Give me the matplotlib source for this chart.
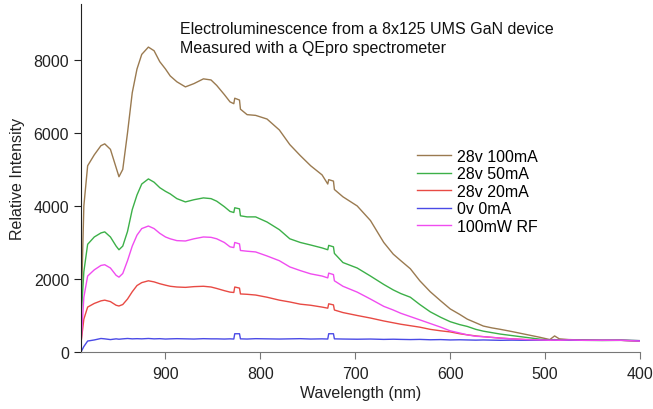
import matplotlib
matplotlib.use("Agg")
import matplotlib.pyplot as plt

plt.rcParams['font.family'] = ['Liberation Sans', 'DejaVu Sans']

# shared wavelength grid (nm)
wavelength = [989, 986, 982, 975, 968, 964, 958, 952, 949, 945, 940, 935, 930, 925,
              918, 912, 906, 900, 895, 888, 879, 870, 860, 852, 846, 838, 832, 828,
              827, 822, 821, 814, 805, 793, 780, 769, 758, 747, 735, 729, 728, 723,
              722, 713, 698, 684, 670, 660, 652, 642, 632, 621, 610, 600, 590, 582,
              573, 565, 556, 547, 535, 520, 505, 495, 490, 485, 475, 460, 440, 420, 400]

i_100mA = [950, 4000, 5100, 5400, 5650, 5700, 5550, 5050, 4800, 5000, 6000, 7100, 7750, 8150,
           8350, 8250, 7950, 7750, 7560, 7400, 7260, 7350, 7480, 7450, 7300, 7050, 6850, 6800,
           6950, 6900, 6650, 6500, 6480, 6380, 6080, 5680, 5380, 5100, 4850, 4600, 4720, 4680,
           4450, 4250, 4000, 3600, 3000, 2680, 2500, 2280, 1950, 1650, 1400, 1180, 1030, 900,
           800, 710, 660, 620, 560, 480, 400, 340, 440, 360, 340, 330, 320, 320, 310]

i_50mA = [900, 2200, 2950, 3150, 3260, 3290, 3150, 2900, 2800, 2900, 3300, 3900, 4300, 4600,
          4740, 4650, 4500, 4400, 4330, 4200, 4110, 4170, 4220, 4200, 4130, 3980, 3850, 3820,
          3950, 3920, 3730, 3700, 3700, 3560, 3350, 3100, 3000, 2930, 2850, 2800, 2920, 2880,
          2700, 2450, 2300, 2080, 1850, 1700, 1600, 1500, 1300, 1100, 950, 830, 750, 700,
          620, 570, 530, 490, 450, 400, 350, 330, 340, 330, 320, 320, 315, 320, 310]

i_20mA = [250, 900, 1230, 1330, 1400, 1420, 1380, 1280, 1260, 1300, 1450, 1650, 1820, 1900,
          1950, 1920, 1870, 1830, 1800, 1780, 1770, 1790, 1800, 1780, 1740, 1680, 1640, 1630,
          1780, 1750, 1590, 1580, 1560, 1500, 1420, 1370, 1310, 1280, 1230, 1200, 1320, 1290,
          1150, 1080, 1000, 930, 850, 800, 760, 720, 680, 620, 580, 550, 500, 470,
          440, 420, 400, 380, 360, 340, 330, 320, 325, 320, 330, 320, 320, 320, 300]

i_0mA = [0, 150, 300, 330, 370, 360, 340, 360, 350, 360, 370, 360, 365, 360,
         370, 360, 365, 355, 360, 365, 360, 355, 365, 360, 360, 355, 360, 355,
         500, 500, 360, 355, 365, 360, 355, 360, 365, 355, 360, 355, 500, 500,
         360, 355, 350, 355, 345, 350, 345, 340, 345, 335, 340, 330, 335, 330,
         325, 330, 325, 320, 325, 320, 325, 320, 325, 320, 325, 320, 320, 320, 310]

i_rf = [200, 1500, 2080, 2250, 2370, 2390, 2300, 2100, 2050, 2150, 2500, 2900, 3200, 3380,
        3450, 3380, 3250, 3150, 3100, 3050, 3040, 3100, 3150, 3140, 3100, 3000, 2880, 2860,
        3000, 2960, 2780, 2760, 2740, 2630, 2500, 2330, 2230, 2140, 2080, 2030, 2160, 2120,
        1950, 1800, 1640, 1450, 1250, 1150, 1060, 970, 880, 780, 680, 580, 520, 470,
        430, 420, 400, 380, 360, 340, 330, 320, 325, 320, 330, 320, 320, 320, 300]

labels = ['28v 100mA', '28v 50mA', '28v 20mA', '0v 0mA', '100mW RF']
colors = ['#9a7a50', '#3cb048', '#e84a44', '#4a4ae6', '#f04cf0']

fig = plt.figure(figsize=(6.53, 4.10), dpi=100)
ax = fig.add_axes([81 / 653, 57 / 410, 559 / 653, 348 / 410])

for y, lab, c in zip([i_100mA, i_50mA, i_20mA, i_0mA, i_rf], labels, colors):
    ax.plot(wavelength, y, color=c, lw=1.0, label=lab)

ax.set_xlim(989, 400)
ax.set_ylim(0, 9530)
ax.set_xticks([900, 800, 700, 600, 500, 400])
ax.set_yticks([0, 2000, 4000, 6000, 8000])
ax.tick_params(direction='out', length=5, width=0.8, labelsize=11.5, colors='#222222')
ax.spines['top'].set_visible(False)
ax.spines['right'].set_visible(False)
ax.spines['left'].set_color('#222222')
ax.spines['bottom'].set_color('#777777')
ax.tick_params(axis='x', color='#777777', labelcolor='#222222', pad=5)

ax.set_xlabel('Wavelength (nm)', fontsize=11.5, color='#222222', labelpad=3)
ax.set_ylabel('Relative Intensity', fontsize=11.5, color='#222222', labelpad=6)

fig.text(180 / 653, 1 - 30 / 410, 'Electroluminescence from a 8x125 UMS GaN device',
         fontsize=11.5, va='center', color='#111111')
fig.text(180 / 653, 1 - 48 / 410, 'Measured with a QEpro spectrometer',
         fontsize=11.5, va='center', color='#111111')

ax.legend(loc='upper left', bbox_to_anchor=(417 / 653, 1 - 150 / 410),
          bbox_transform=fig.transFigure, frameon=False, fontsize=11.5,
          borderpad=0, borderaxespad=0, handlelength=2.1, handletextpad=0.4,
          labelspacing=0.15)

fig.savefig('out.png', dpi=100)
